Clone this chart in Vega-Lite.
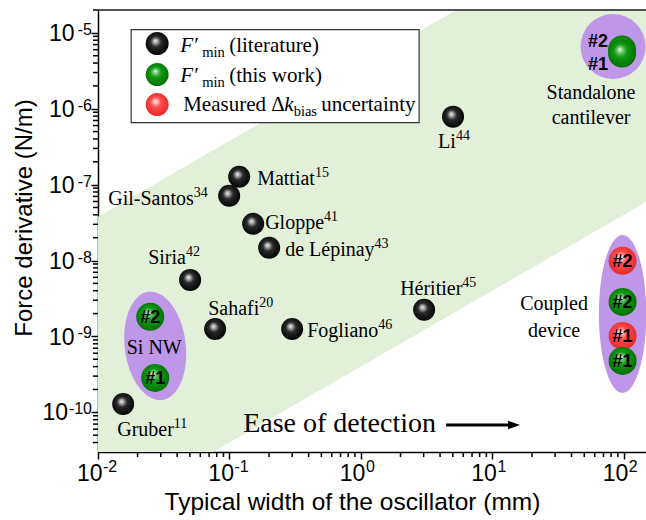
{
  "$schema": "https://vega.github.io/schema/vega-lite/v6.json",
  "width": 549,
  "height": 442,
  "autosize": {"type": "none"},
  "padding": {"left": 98, "top": 10, "right": 0, "bottom": 68},
  "background": "white",
  "config": {
    "view": {"stroke": null},
    "axis": {
      "labelFont": "Liberation Sans", "labelFontSize": 23, "labelColor": "#000",
      "titleFont": "Liberation Sans", "titleFontWeight": "normal", "titleColor": "#000",
      "domainColor": "#000", "domainWidth": 1.5,
      "grid": false, "labelFlush": false, "labelOverlap": false
    }
  },
  "datasets": {
    "band": [{"x": 0.01, "y": 4.0e-12, "y2": 3.77e-8}, {"x": 150, "y": 6.0e-8, "y2": 5.655e-4}],
    "frame": [{"x": 0.01, "x2": 150, "y": 2e-5}],
    "xMinor": [
      {"x": 0.02, "y": 3e-11}, {"x": 0.03, "y": 3e-11}, {"x": 0.04, "y": 3e-11}, {"x": 0.05, "y": 3e-11}, {"x": 0.06, "y": 3e-11}, {"x": 0.07, "y": 3e-11}, {"x": 0.08, "y": 3e-11}, {"x": 0.09, "y": 3e-11},
      {"x": 0.2, "y": 3e-11}, {"x": 0.3, "y": 3e-11}, {"x": 0.4, "y": 3e-11}, {"x": 0.5, "y": 3e-11}, {"x": 0.6, "y": 3e-11}, {"x": 0.7, "y": 3e-11}, {"x": 0.8, "y": 3e-11}, {"x": 0.9, "y": 3e-11},
      {"x": 2, "y": 3e-11}, {"x": 3, "y": 3e-11}, {"x": 4, "y": 3e-11}, {"x": 5, "y": 3e-11}, {"x": 6, "y": 3e-11}, {"x": 7, "y": 3e-11}, {"x": 8, "y": 3e-11}, {"x": 9, "y": 3e-11},
      {"x": 20, "y": 3e-11}, {"x": 30, "y": 3e-11}, {"x": 40, "y": 3e-11}, {"x": 50, "y": 3e-11}, {"x": 60, "y": 3e-11}, {"x": 70, "y": 3e-11}, {"x": 80, "y": 3e-11}, {"x": 90, "y": 3e-11}
    ],
    "yMinor": [
      {"x": 0.01, "y": 4e-11}, {"x": 0.01, "y": 5e-11}, {"x": 0.01, "y": 6e-11}, {"x": 0.01, "y": 7e-11}, {"x": 0.01, "y": 8e-11}, {"x": 0.01, "y": 9e-11},
      {"x": 0.01, "y": 2e-10}, {"x": 0.01, "y": 3e-10}, {"x": 0.01, "y": 4e-10}, {"x": 0.01, "y": 5e-10}, {"x": 0.01, "y": 6e-10}, {"x": 0.01, "y": 7e-10}, {"x": 0.01, "y": 8e-10}, {"x": 0.01, "y": 9e-10},
      {"x": 0.01, "y": 2e-9}, {"x": 0.01, "y": 3e-9}, {"x": 0.01, "y": 4e-9}, {"x": 0.01, "y": 5e-9}, {"x": 0.01, "y": 6e-9}, {"x": 0.01, "y": 7e-9}, {"x": 0.01, "y": 8e-9}, {"x": 0.01, "y": 9e-9},
      {"x": 0.01, "y": 2e-8}, {"x": 0.01, "y": 3e-8}, {"x": 0.01, "y": 4e-8}, {"x": 0.01, "y": 5e-8}, {"x": 0.01, "y": 6e-8}, {"x": 0.01, "y": 7e-8}, {"x": 0.01, "y": 8e-8}, {"x": 0.01, "y": 9e-8},
      {"x": 0.01, "y": 2e-7}, {"x": 0.01, "y": 3e-7}, {"x": 0.01, "y": 4e-7}, {"x": 0.01, "y": 5e-7}, {"x": 0.01, "y": 6e-7}, {"x": 0.01, "y": 7e-7}, {"x": 0.01, "y": 8e-7}, {"x": 0.01, "y": 9e-7},
      {"x": 0.01, "y": 2e-6}, {"x": 0.01, "y": 3e-6}, {"x": 0.01, "y": 4e-6}, {"x": 0.01, "y": 5e-6}, {"x": 0.01, "y": 6e-6}, {"x": 0.01, "y": 7e-6}, {"x": 0.01, "y": 8e-6}, {"x": 0.01, "y": 9e-6},
      {"x": 0.01, "y": 2e-5}
    ],
    "xExp": [
      {"x": 0.01, "y": 3e-11, "t": "-2"},
      {"x": 0.1, "y": 3e-11, "t": "-1"},
      {"x": 1, "y": 3e-11, "t": "0"},
      {"x": 10, "y": 3e-11, "t": "1"},
      {"x": 100, "y": 3e-11, "t": "2"}
    ],
    "yExp": [
      {"x": 0.01, "y": 1e-10, "t": "-10"},
      {"x": 0.01, "y": 1e-9, "t": "-9"},
      {"x": 0.01, "y": 1e-8, "t": "-8"},
      {"x": 0.01, "y": 1e-7, "t": "-7"},
      {"x": 0.01, "y": 1e-6, "t": "-6"},
      {"x": 0.01, "y": 1e-5, "t": "-5"}
    ],
    "yTen": [{"x": 0.01, "y": 1e-10, "t": "10"}],
    "groups": [
      {"x": 0.02723, "y": 7.5e-10, "g": "Si NW"},
      {"x": 82.8, "y": 6.59e-6, "g": "Standalone"},
      {"x": 97.8, "y": 1.98e-9, "g": "Coupled"}
    ],
    "lit": [
      {"x": 0.01554, "y": 1.288e-10, "name": "Gruber"},
      {"x": 0.0502, "y": 5.56e-9, "name": "Siria"},
      {"x": 0.0778, "y": 1.256e-9, "name": "Sahafi"},
      {"x": 0.2998, "y": 1.256e-9, "name": "Fogliano"},
      {"x": 3.024, "y": 2.24e-9, "name": "Héritier"},
      {"x": 5.02, "y": 7.87e-7, "name": "Li"},
      {"x": 0.1185, "y": 1.27e-7, "name": "Mattiat"},
      {"x": 0.0995, "y": 7.14e-8, "name": "Gil-Santos"},
      {"x": 0.1514, "y": 3.05e-8, "name": "Gloppe"},
      {"x": 0.2004, "y": 1.47e-8, "name": "de Lépinay"}
    ],
    "work": [
      {"x": 0.02495, "y": 1.81e-9, "tag": "#2", "group": "Si NW"},
      {"x": 0.02723, "y": 2.835e-10, "tag": "#1", "group": "Si NW"},
      {"x": 96.9, "y": 6.02e-6, "tag": "#2", "group": "Standalone"},
      {"x": 96.9, "y": 5.33e-6, "tag": "#1", "group": "Standalone"},
      {"x": 97.8, "y": 2.85e-9, "tag": "#2", "group": "Coupled"},
      {"x": 97.8, "y": 4.75e-10, "tag": "#1", "group": "Coupled"}
    ],
    "unc": [
      {"x": 97.8, "y": 9.9e-9, "tag": "#2"},
      {"x": 97.8, "y": 1.016e-9, "tag": "#1"}
    ],
    "standTags": [
      {"x": 63.66, "y": 7.68e-6, "t": "#2"},
      {"x": 63.66, "y": 3.82e-6, "t": "#1"}
    ],
    "labelsMain": [
      {"x": 0.1624, "y": 9.97e-8, "t": "Mattiat"},
      {"x": 0.01196, "y": 5.43e-8, "t": "Gil-Santos"},
      {"x": 0.1868, "y": 2.62e-8, "t": "Gloppe"},
      {"x": 0.2653, "y": 1.153e-8, "t": "de Lépinay"},
      {"x": 0.02408, "y": 9.05e-9, "t": "Siria"},
      {"x": 0.06887, "y": 1.921e-9, "t": "Sahafi"},
      {"x": 0.3899, "y": 9.85e-10, "t": "Fogliano"},
      {"x": 1.987, "y": 3.53e-9, "t": "Héritier"},
      {"x": 0.014, "y": 4.87e-11, "t": "Gruber"},
      {"x": 3.865, "y": 3.067e-7, "t": "Li"}
    ],
    "labelsSup": [
      {"x": 0.4468, "y": 9.97e-8, "t": "15"},
      {"x": 0.05352, "y": 5.43e-8, "t": "34"},
      {"x": 0.524, "y": 2.62e-8, "t": "41"},
      {"x": 1.269, "y": 1.153e-8, "t": "43"},
      {"x": 0.04669, "y": 9.05e-9, "t": "42"},
      {"x": 0.1685, "y": 1.921e-9, "t": "20"},
      {"x": 1.354, "y": 9.85e-10, "t": "46"},
      {"x": 5.903, "y": 3.53e-9, "t": "45"},
      {"x": 0.03771, "y": 4.87e-11, "t": "11"},
      {"x": 5.278, "y": 3.067e-7, "t": "44"}
    ],
    "labelsCenter": [
      {"x": 0.02676, "y": 5.874e-10, "t": "Si NW"},
      {"x": 56.3, "y": 1.358e-6, "t": "Standalone"},
      {"x": 56.3, "y": 6.36e-7, "t": "cantilever"},
      {"x": 29.45, "y": 2.236e-9, "t": "Coupled"},
      {"x": 29.45, "y": 9.85e-10, "t": "device"}
    ],
    "ease": [{"x": 0.1271, "y": 5.5e-11, "t": "Ease of detection"}],
    "arrow": [{"x": 4.445, "x2": 14.12, "y": 6.8e-11}],
    "arrowHead": [{"x": 14.62, "y": 6.8e-11}],
    "legendBox": [{"x": 0.01788, "x2": 2.771, "y": 1.105e-5, "y2": 6.556e-7}],
    "legendBalls": [
      {"x": 0.02819, "y": 7.225e-6, "kind": "lit"},
      {"x": 0.02819, "y": 2.818e-6, "kind": "work"},
      {"x": 0.02819, "y": 1.133e-6, "kind": "unc"}
    ],
    "legendItalic": [
      {"x": 0.04218, "y": 5.665e-6, "t": "F′"},
      {"x": 0.04218, "y": 2.278e-6, "t": "F′"},
      {"x": 0.2606, "y": 9.44e-7, "t": "k"}
    ],
    "legendSub": [
      {"x": 0.06201, "y": 5.665e-6, "t": "min"},
      {"x": 0.06201, "y": 2.278e-6, "t": "min"},
      {"x": 0.3078, "y": 9.44e-7, "t": "bias"}
    ],
    "legendMain": [
      {"x": 0.09948, "y": 5.665e-6, "t": "(literature)"},
      {"x": 0.09948, "y": 2.278e-6, "t": "(this work)"},
      {"x": 0.04444, "y": 9.44e-7, "t": "Measured Δ"},
      {"x": 0.4981, "y": 9.44e-7, "t": "uncertainty"}
    ]
  },
  "encoding": {
    "x": {
      "field": "x", "type": "quantitative",
      "scale": {"type": "log", "domain": [0.01, 150], "nice": false},
      "title": "Typical width of the oscillator (mm)",
      "axis": {
        "values": [0.01, 0.1, 1, 10, 100],
        "labelExpr": "'10'",
        "ticks": true, "tickColor": "#000", "tickWidth": 1.5, "tickSize": 7,
        "labelAlign": "right", "labelOffset": 4, "labelBaseline": "alphabetic", "labelPadding": 21,
        "titleFontSize": 24.5,
        "titleX": 254, "titleY": 57, "titleBaseline": "alphabetic", "titleAlign": "center"
      }
    },
    "y": {
      "field": "y", "type": "quantitative",
      "scale": {"type": "log", "domain": [3e-11, 2e-5], "nice": false},
      "title": "Force derivative (N/m)",
      "axis": {
        "values": [1e-10, 1e-9, 1e-8, 1e-7, 1e-6, 1e-5],
        "labelExpr": "datum.value < 5e-10 ? '' : '10'",
        "ticks": true, "tickColor": "#000", "tickWidth": 1.5, "tickSize": 7,
        "labelAlign": "right", "labelBaseline": "alphabetic", "labelOffset": 8, "labelPadding": 17,
        "titleFontSize": 24,
        "titleX": -74, "titleY": 207.5, "titleBaseline": "middle", "titleAlign": "center"
      }
    }
  },
  "layer": [
    {
      "data": {"name": "band"},
      "mark": {"type": "area", "color": "#e2efd9", "clip": true, "opacity": 1},
      "encoding": {"y2": {"field": "y2"}}
    },
    {
      "data": {"name": "frame"},
      "mark": {"type": "rule", "color": "#1a1a1a", "strokeWidth": 1.5},
      "encoding": {"x2": {"field": "x2"}}
    },
    {
      "data": {"name": "xMinor"},
      "mark": {"type": "tick", "orient": "vertical", "size": 5, "thickness": 1.5, "yOffset": 2.5, "color": "#000", "opacity": 1}
    },
    {
      "data": {"name": "yMinor"},
      "mark": {"type": "tick", "orient": "horizontal", "size": 5, "thickness": 1.5, "xOffset": -2.5, "color": "#000", "opacity": 1}
    },
    {
      "data": {"name": "xExp"},
      "mark": {"type": "text", "font": "Liberation Sans", "fontSize": 16, "align": "left", "baseline": "alphabetic", "dx": 5, "dy": 20, "color": "#000"},
      "encoding": {"text": {"field": "t"}}
    },
    {
      "data": {"name": "yExp"},
      "mark": {"type": "text", "font": "Liberation Sans", "fontSize": 16, "align": "right", "baseline": "alphabetic", "dx": -6, "dy": 2, "color": "#000"},
      "encoding": {"text": {"field": "t"}}
    },
    {
      "data": {"name": "yTen"},
      "mark": {"type": "text", "font": "Liberation Sans", "fontSize": 23, "align": "right", "baseline": "alphabetic", "dx": -30, "dy": 8, "color": "#000"},
      "encoding": {"text": {"field": "t"}}
    },
    {
      "data": {"name": "legendBox"},
      "mark": {"type": "rect", "fill": "white", "stroke": "#333", "strokeWidth": 1.2},
      "encoding": {"x2": {"field": "x2"}, "y2": {"field": "y2"}}
    },
    {
      "data": {"name": "groups"},
      "transform": [{"filter": "datum.g === 'Si NW'"}],
      "mark": {"type": "point", "filled": true, "opacity": 1, "fill": "#be97e8", "strokeWidth": 0, "size": 11881, "angle": 353,
        "shape": "M0,-1C0.3093,-1 0.56,-0.5523 0.56,0C0.56,0.5523 0.3093,1 0,1C-0.3093,1 -0.56,0.5523 -0.56,0C-0.56,-0.5523 -0.3093,-1 0,-1Z"}
    },
    {
      "data": {"name": "groups"},
      "transform": [{"filter": "datum.g === 'Coupled'"}],
      "mark": {"type": "point", "filled": true, "opacity": 1, "fill": "#be97e8", "strokeWidth": 0, "size": 24964,
        "shape": "M0,-1C0.1657,-1 0.3,-0.5523 0.3,0C0.3,0.5523 0.1657,1 0,1C-0.1657,1 -0.3,0.5523 -0.3,0C-0.3,-0.5523 -0.1657,-1 0,-1Z"}
    },
    {
      "data": {"name": "groups"},
      "transform": [{"filter": "datum.g === 'Standalone'"}],
      "mark": {"type": "point", "filled": true, "opacity": 1, "fill": "#be97e8", "strokeWidth": 0, "size": 4225, "shape": "circle"}
    },
    {
      "data": {"name": "lit"},
      "mark": {"type": "point", "filled": true, "opacity": 1, "strokeWidth": 0, "size": 484, "shape": "circle",
        "fill": {"gradient": "radial", "x1": 0.42, "y1": 0.38, "r1": 0, "x2": 0.48, "y2": 0.47, "r2": 0.55,
          "stops": [{"offset": 0, "color": "#f2f2f2"}, {"offset": 0.17, "color": "#a8a8a8"}, {"offset": 0.42, "color": "#2a2a2a"}, {"offset": 1, "color": "#000000"}]}}
    },
    {
      "data": {"name": "unc"},
      "mark": {"type": "point", "filled": true, "opacity": 1, "strokeWidth": 0, "size": 784, "shape": "circle",
        "fill": {"gradient": "radial", "x1": 0.42, "y1": 0.35, "r1": 0, "x2": 0.48, "y2": 0.47, "r2": 0.55,
          "stops": [{"offset": 0, "color": "#ffffff"}, {"offset": 0.15, "color": "#ffb8b8"}, {"offset": 0.42, "color": "#ff4a4a"}, {"offset": 1, "color": "#e82828"}]}}
    },
    {
      "data": {"name": "work"},
      "mark": {"type": "point", "filled": true, "opacity": 1, "strokeWidth": 0, "size": 784, "shape": "circle",
        "fill": {"gradient": "radial", "x1": 0.42, "y1": 0.35, "r1": 0, "x2": 0.48, "y2": 0.47, "r2": 0.55,
          "stops": [{"offset": 0, "color": "#f0fff0"}, {"offset": 0.15, "color": "#8ad08a"}, {"offset": 0.42, "color": "#139a13"}, {"offset": 1, "color": "#006e00"}]}}
    },
    {
      "data": {"name": "legendBalls"},
      "transform": [{"filter": "datum.kind === 'lit'"}],
      "mark": {"type": "point", "filled": true, "opacity": 1, "strokeWidth": 0, "size": 529, "shape": "circle",
        "fill": {"gradient": "radial", "x1": 0.42, "y1": 0.38, "r1": 0, "x2": 0.48, "y2": 0.47, "r2": 0.55,
          "stops": [{"offset": 0, "color": "#f2f2f2"}, {"offset": 0.17, "color": "#a8a8a8"}, {"offset": 0.42, "color": "#2a2a2a"}, {"offset": 1, "color": "#000000"}]}}
    },
    {
      "data": {"name": "legendBalls"},
      "transform": [{"filter": "datum.kind === 'work'"}],
      "mark": {"type": "point", "filled": true, "opacity": 1, "strokeWidth": 0, "size": 529, "shape": "circle",
        "fill": {"gradient": "radial", "x1": 0.42, "y1": 0.35, "r1": 0, "x2": 0.48, "y2": 0.47, "r2": 0.55,
          "stops": [{"offset": 0, "color": "#f0fff0"}, {"offset": 0.15, "color": "#8ad08a"}, {"offset": 0.42, "color": "#139a13"}, {"offset": 1, "color": "#006e00"}]}}
    },
    {
      "data": {"name": "legendBalls"},
      "transform": [{"filter": "datum.kind === 'unc'"}],
      "mark": {"type": "point", "filled": true, "opacity": 1, "strokeWidth": 0, "size": 529, "shape": "circle",
        "fill": {"gradient": "radial", "x1": 0.42, "y1": 0.35, "r1": 0, "x2": 0.48, "y2": 0.47, "r2": 0.55,
          "stops": [{"offset": 0, "color": "#ffffff"}, {"offset": 0.15, "color": "#ffb8b8"}, {"offset": 0.42, "color": "#ff4a4a"}, {"offset": 1, "color": "#e82828"}]}}
    },
    {
      "data": {"name": "work"},
      "transform": [{"filter": "datum.group !== 'Standalone'"}],
      "mark": {"type": "text", "font": "Liberation Sans", "fontWeight": "bold", "fontSize": 18, "align": "center", "baseline": "middle", "dy": 1, "color": "#000"},
      "encoding": {"text": {"field": "tag"}}
    },
    {
      "data": {"name": "unc"},
      "mark": {"type": "text", "font": "Liberation Sans", "fontWeight": "bold", "fontSize": 18, "align": "center", "baseline": "middle", "dy": 1, "color": "#000"},
      "encoding": {"text": {"field": "tag"}}
    },
    {
      "data": {"name": "standTags"},
      "mark": {"type": "text", "font": "Liberation Sans", "fontWeight": "bold", "fontSize": 18, "align": "center", "baseline": "middle", "color": "#000"},
      "encoding": {"text": {"field": "t"}}
    },
    {
      "data": {"name": "labelsMain"},
      "mark": {"type": "text", "font": "Liberation Serif", "fontSize": 20, "align": "left", "baseline": "alphabetic", "color": "#000"},
      "encoding": {"text": {"field": "t"}}
    },
    {
      "data": {"name": "labelsSup"},
      "mark": {"type": "text", "font": "Liberation Serif", "fontSize": 14, "align": "left", "baseline": "alphabetic", "dy": -8, "color": "#000"},
      "encoding": {"text": {"field": "t"}}
    },
    {
      "data": {"name": "labelsCenter"},
      "mark": {"type": "text", "font": "Liberation Serif", "fontSize": 20, "align": "center", "baseline": "alphabetic", "color": "#000"},
      "encoding": {"text": {"field": "t"}}
    },
    {
      "data": {"name": "legendMain"},
      "mark": {"type": "text", "font": "Liberation Serif", "fontSize": 21, "align": "left", "baseline": "alphabetic", "color": "#000"},
      "encoding": {"text": {"field": "t"}}
    },
    {
      "data": {"name": "legendItalic"},
      "mark": {"type": "text", "font": "Liberation Serif", "fontSize": 21, "fontStyle": "italic", "align": "left", "baseline": "alphabetic", "color": "#000"},
      "encoding": {"text": {"field": "t"}}
    },
    {
      "data": {"name": "legendSub"},
      "mark": {"type": "text", "font": "Liberation Serif", "fontSize": 14.5, "align": "left", "baseline": "alphabetic", "dy": 5, "color": "#000"},
      "encoding": {"text": {"field": "t"}}
    },
    {
      "data": {"name": "ease"},
      "mark": {"type": "text", "font": "Liberation Serif", "fontSize": 28, "align": "left", "baseline": "alphabetic", "color": "#000"},
      "encoding": {"text": {"field": "t"}}
    },
    {
      "data": {"name": "arrow"},
      "mark": {"type": "rule", "color": "#000", "strokeWidth": 3},
      "encoding": {"x2": {"field": "x2"}}
    },
    {
      "data": {"name": "arrowHead"},
      "mark": {"type": "point", "filled": true, "opacity": 1, "fill": "#000", "strokeWidth": 0, "size": 144, "shape": "M-1,-0.7L1,0L-1,0.7Z"}
    }
  ]
}
